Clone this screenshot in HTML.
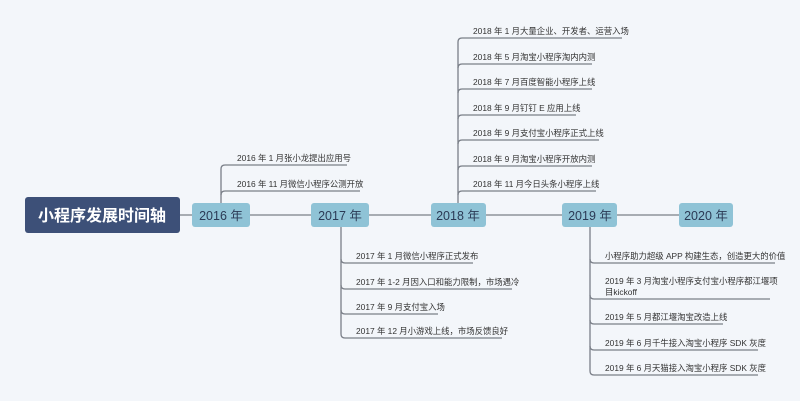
<!DOCTYPE html>
<html><head><meta charset="utf-8"><style>
html,body{margin:0;padding:0;background:#f3f6fa;}
svg{display:block;}
text{font-family:"Liberation Sans","Noto Sans CJK SC",sans-serif;}
.t{font-size:8.4px;fill:#333;}
.y{font-size:12.5px;fill:#2b3a55;text-anchor:middle;}
</style></head><body>
<svg width="800" height="401" viewBox="0 0 800 401" xmlns="http://www.w3.org/2000/svg">
<rect width="800" height="401" fill="#f3f6fa"/>
<g stroke="#7a7f88" stroke-width="1.3" fill="none">
<line x1="180" y1="215" x2="679" y2="215"/>
<path d="M221 203 V169 Q221 165 225 165 H347"/>
<path d="M221 195 Q221 191 225 191 H360"/>
<path d="M458 203 V42 Q458 38 462 38 H622"/>
<path d="M458 68 Q458 64 462 64 H592"/>
<path d="M458 93 Q458 89 462 89 H592"/>
<path d="M458 119 Q458 115 462 115 H576"/>
<path d="M458 144 Q458 140 462 140 H599"/>
<path d="M458 170 Q458 166 462 166 H592"/>
<path d="M458 195 Q458 191 462 191 H596"/>
<path d="M341 227 V334 Q341 338 345 338 H502"/>
<path d="M341 259 Q341 263 345 263 H473"/>
<path d="M341 285 Q341 289 345 289 H512"/>
<path d="M341 310 Q341 314 345 314 H438"/>
<path d="M590 227 V371 Q590 375 594 375 H758"/>
<path d="M590 259 Q590 263 594 263 H775"/>
<path d="M590 295 Q590 299 594 299 H770"/>
<path d="M590 320 Q590 324 594 324 H723"/>
<path d="M590 346 Q590 350 594 350 H758"/>
</g>
<rect x="25" y="197" width="155" height="36" rx="3" fill="#3d5078"/>
<text x="102" y="221" text-anchor="middle" font-size="16" font-weight="bold" fill="#fff">小程序发展时间轴</text>
<g fill="#8fc3d6">
<rect x="192" y="203" width="58" height="24" rx="3"/>
<rect x="311" y="203" width="58" height="24" rx="3"/>
<rect x="431" y="203" width="55" height="24" rx="3"/>
<rect x="562" y="203" width="55" height="24" rx="3"/>
<rect x="679" y="203" width="54" height="24" rx="3"/>
</g>
<text class="y" x="221" y="220">2016 年</text>
<text class="y" x="340" y="220">2017 年</text>
<text class="y" x="458" y="220">2018 年</text>
<text class="y" x="590" y="220">2019 年</text>
<text class="y" x="706" y="220">2020 年</text>
<text class="t" x="237" y="161">2016 年 1 月张小龙提出应用号</text>
<text class="t" x="237" y="187">2016 年 11 月微信小程序公测开放</text>
<text class="t" x="473" y="34">2018 年 1 月大量企业、开发者、运营入场</text>
<text class="t" x="473" y="60">2018 年 5 月淘宝小程序淘内内测</text>
<text class="t" x="473" y="85">2018 年 7 月百度智能小程序上线</text>
<text class="t" x="473" y="111">2018 年 9 月钉钉 E 应用上线</text>
<text class="t" x="473" y="136">2018 年 9 月支付宝小程序正式上线</text>
<text class="t" x="473" y="162">2018 年 9 月淘宝小程序开放内测</text>
<text class="t" x="473" y="187">2018 年 11 月今日头条小程序上线</text>
<text class="t" x="356" y="259">2017 年 1 月微信小程序正式发布</text>
<text class="t" x="356" y="285">2017 年 1-2 月因入口和能力限制，市场遇冷</text>
<text class="t" x="356" y="310">2017 年 9 月支付宝入场</text>
<text class="t" x="356" y="334">2017 年 12 月小游戏上线，市场反馈良好</text>
<text class="t" x="605" y="259">小程序助力超级 APP 构建生态，创造更大的价值</text>
<text class="t" x="605" y="284">2019 年 3 月淘宝小程序支付宝小程序都江堰项</text>
<text class="t" x="605" y="295">目kickoff</text>
<text class="t" x="605" y="320">2019 年 5 月都江堰淘宝改造上线</text>
<text class="t" x="605" y="346">2019 年 6 月千牛接入淘宝小程序 SDK 灰度</text>
<text class="t" x="605" y="371">2019 年 6 月天猫接入淘宝小程序 SDK 灰度</text>
</svg>
</body></html>
